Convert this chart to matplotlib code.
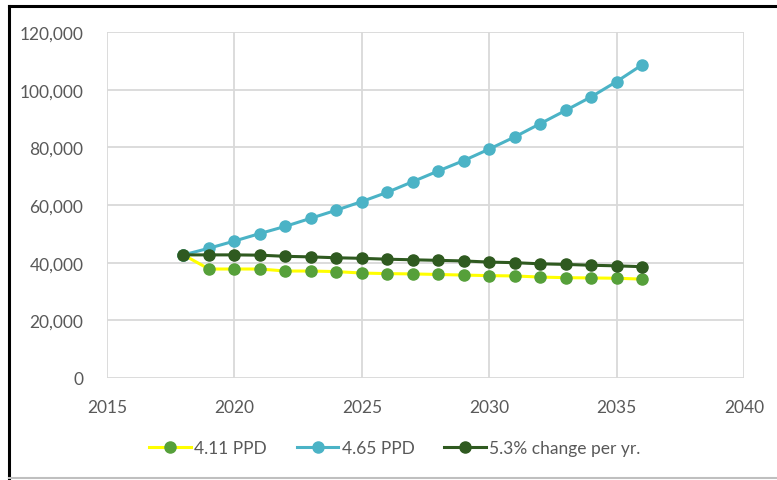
import numpy as np
import matplotlib.pyplot as plt
from matplotlib.lines import Line2D
from matplotlib.ticker import FuncFormatter

years = list(range(2018, 2037))
ppd_411 = [42.7, 37.8, 37.8, 37.8, 37.1, 37.1, 36.9, 36.4, 36.2, 36.1,
           35.9, 35.7, 35.5, 35.4, 35.0, 34.8, 34.7, 34.6, 34.3]
ppd_465 = [42.7, 45.0, 47.5, 50.1, 52.6, 55.4, 58.2, 61.2, 64.4, 68.1,
           71.8, 75.4, 79.4, 83.6, 88.2, 92.8, 97.5, 102.8, 108.6]
change_53 = [42.7, 42.7, 42.7, 42.6, 42.2, 42.0, 41.7, 41.5, 41.2, 41.0,
             40.8, 40.6, 40.2, 40.0, 39.6, 39.4, 39.1, 38.9, 38.6]
labels = ['4.11 PPD', '4.65 PPD', '5.3% change per yr.']

plt.rcParams['font.family'] = ['Lato', 'DejaVu Sans']
W, H = 777, 481
fig = plt.figure(figsize=(W/100, H/100), dpi=100)
ax = fig.add_axes([107/W, 1-379/H, (744-107)/W, (379-33)/H])

grey = '#D9D9D9'
txt = '#595959'
ms = 8
lw = 2.2
fs = 12.5

ax.plot(years, np.array(ppd_411)*1000, color='#FFFF00', lw=lw, marker='o', ms=ms,
        mfc='#56A03A', mec='#56A03A', label=labels[0], zorder=3)
ax.plot(years, np.array(ppd_465)*1000, color='#4BB3C6', lw=lw, marker='o', ms=ms,
        mfc='#4BB3C6', mec='#4BB3C6', label=labels[1], zorder=4)
ax.plot(years, np.array(change_53)*1000, color='#2F5A20', lw=lw, marker='o', ms=ms,
        mfc='#2F5A20', mec='#2F5A20', label=labels[2], zorder=5)

ax.set_xlim(2015, 2040)
ax.set_ylim(0, 120000)
ax.set_xticks(range(2015, 2041, 5))
ax.set_yticks(range(0, 120001, 20000))
ax.yaxis.set_major_formatter(FuncFormatter(lambda v, p: f'{int(v):,}'))
ax.grid(True, color=grey, lw=1.3)
ax.set_axisbelow(True)
for s in ax.spines.values():
    s.set_visible(False)
ax.tick_params(length=0, colors=txt, labelsize=fs)
ax.tick_params(axis='y', pad=17)
ax.tick_params(axis='x', pad=15)

ax.legend(loc='center', bbox_to_anchor=(395/W, 1-449/H), bbox_transform=fig.transFigure,
          ncol=3, frameon=False, fontsize=fs, labelcolor=txt, handlelength=2.4,
          handletextpad=0.2, columnspacing=1.7)

# outer frame
fig.add_artist(Line2D([9/W, 9/W], [1-7/H, 1-479/H], color='black', lw=2.2, transform=fig.transFigure))
fig.add_artist(Line2D([9/W, 1], [1-7/H, 1-7/H], color='black', lw=2.2, transform=fig.transFigure))
fig.add_artist(Line2D([9/W, 1], [1-479/H, 1-479/H], color='#BFBFBF', lw=1.5, transform=fig.transFigure))

fig.savefig('out.png', dpi=100)
